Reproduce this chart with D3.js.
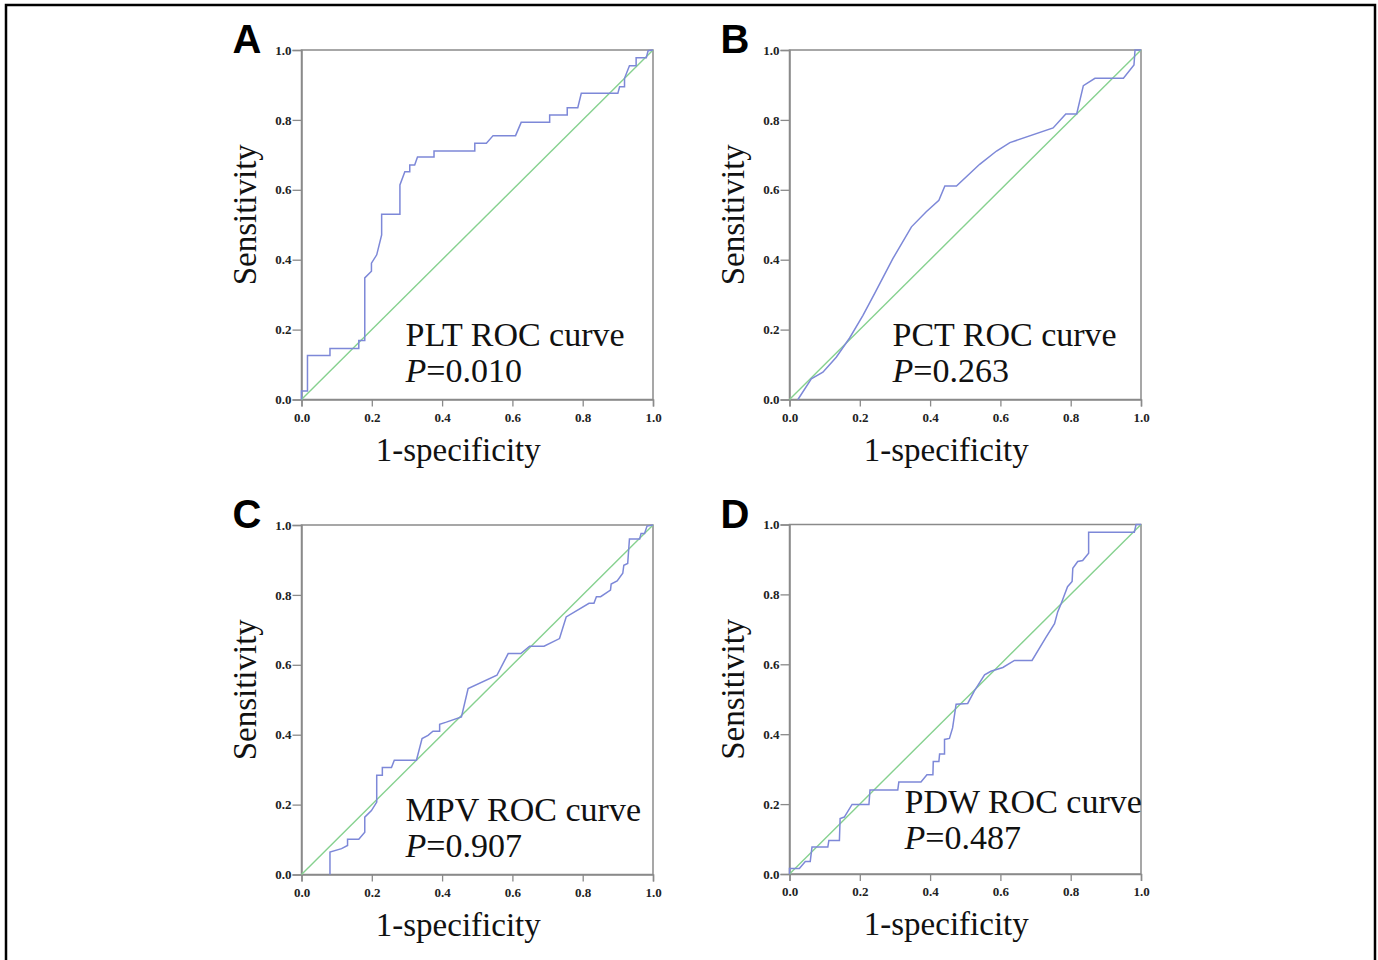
<!DOCTYPE html>
<html>
<head>
<meta charset="utf-8">
<script src="https://cdn.jsdelivr.net/npm/d3@7"></script>
<style>
  body { margin: 0; background: #fff; }
  svg { display: block; }
</style>
</head>
<body>
<script>
// ROC curves, 4 panels
var pltFpr = [0, 0, 0.017, 0.017, 0.081, 0.081, 0.163, 0.163, 0.180, 0.180, 0.199, 0.199, 0.214, 0.228, 0.228, 0.280, 0.280, 0.294, 0.308, 0.308, 0.322, 0.330, 0.377, 0.377, 0.493, 0.493, 0.526, 0.545, 0.609, 0.625, 0.706, 0.706, 0.756, 0.756, 0.786, 0.796, 0.900, 0.905, 0.919, 0.919, 0.933, 0.952, 0.952, 0.981, 0.986, 1];
var pltTpr = [0, 0.024, 0.024, 0.126, 0.126, 0.146, 0.146, 0.169, 0.169, 0.348, 0.367, 0.390, 0.414, 0.471, 0.530, 0.530, 0.614, 0.652, 0.652, 0.671, 0.671, 0.694, 0.694, 0.711, 0.711, 0.733, 0.733, 0.755, 0.755, 0.793, 0.793, 0.814, 0.814, 0.835, 0.835, 0.876, 0.876, 0.895, 0.895, 0.919, 0.955, 0.955, 0.978, 0.978, 0.998, 1];

var pctFpr = [0.024, 0.062, 0.095, 0.133, 0.171, 0.209, 0.242, 0.294, 0.347, 0.389, 0.425, 0.442, 0.475, 0.541, 0.589, 0.627, 0.750, 0.786, 0.817, 0.836, 0.869, 0.950, 0.980, 0.983, 1];
var pctTpr = [0, 0.059, 0.078, 0.121, 0.176, 0.241, 0.303, 0.403, 0.494, 0.537, 0.570, 0.611, 0.611, 0.673, 0.711, 0.735, 0.777, 0.817, 0.817, 0.898, 0.919, 0.919, 0.957, 1, 1];

var mpvFpr = [0.081, 0.081, 0.114, 0.131, 0.131, 0.163, 0.180, 0.180, 0.199, 0.214, 0.214, 0.230, 0.230, 0.256, 0.264, 0.327, 0.343, 0.360, 0.374, 0.393, 0.393, 0.412, 0.455, 0.474, 0.556, 0.588, 0.624, 0.649, 0.690, 0.734, 0.753, 0.818, 0.832, 0.839, 0.851, 0.879, 0.881, 0.898, 0.914, 0.917, 0.928, 0.933, 0.962, 0.966, 0.976, 0.983, 1];
var mpvTpr = [0, 0.064, 0.074, 0.083, 0.101, 0.101, 0.121, 0.164, 0.183, 0.207, 0.284, 0.284, 0.306, 0.306, 0.327, 0.327, 0.389, 0.398, 0.410, 0.410, 0.430, 0.436, 0.451, 0.532, 0.570, 0.632, 0.632, 0.653, 0.653, 0.675, 0.737, 0.776, 0.776, 0.795, 0.795, 0.814, 0.831, 0.840, 0.862, 0.885, 0.890, 0.960, 0.960, 0.976, 0.976, 0.997, 1];

var pdwFpr = [0, 0, 0.028, 0.045, 0.059, 0.064, 0.109, 0.112, 0.142, 0.144, 0.156, 0.178, 0.226, 0.229, 0.308, 0.311, 0.374, 0.391, 0.408, 0.409, 0.425, 0.427, 0.441, 0.441, 0.455, 0.464, 0.474, 0.507, 0.526, 0.555, 0.573, 0.607, 0.640, 0.690, 0.730, 0.754, 0.763, 0.773, 0.791, 0.804, 0.806, 0.820, 0.834, 0.851, 0.851, 0.981, 0.986, 1];
var pdwTpr = [0, 0.016, 0.016, 0.036, 0.036, 0.077, 0.077, 0.096, 0.096, 0.159, 0.163, 0.199, 0.199, 0.240, 0.240, 0.263, 0.263, 0.284, 0.284, 0.322, 0.322, 0.343, 0.343, 0.385, 0.388, 0.418, 0.486, 0.488, 0.524, 0.570, 0.580, 0.591, 0.611, 0.611, 0.678, 0.716, 0.750, 0.774, 0.822, 0.837, 0.875, 0.894, 0.897, 0.918, 0.978, 0.978, 1, 1];

var panelLetters = ['A', 'B', 'C', 'D'];
var curveNames = ['PLT ROC curve', 'PCT ROC curve', 'MPV ROC curve', 'PDW ROC curve'];
var pValues = ['0.010', '0.263', '0.907', '0.487'];
var tickValues = [0, 0.2, 0.4, 0.6, 0.8, 1.0];

var panels = [
  { fpr: pltFpr, tpr: pltTpr, x: 301.5, y: 50, lx: 104, ly: 296 },
  { fpr: pctFpr, tpr: pctTpr, x: 789.5, y: 50, lx: 103, ly: 296 },
  { fpr: mpvFpr, tpr: mpvTpr, x: 301.5, y: 525, lx: 104, ly: 296 },
  { fpr: pdwFpr, tpr: pdwTpr, x: 789.5, y: 524.5, lx: 115, ly: 288 }
];

var width = 1378, height = 960,
    pw = 351.5, ph = 349.5;

var svg = d3.select('body').append('svg')
  .attr('width', width)
  .attr('height', height);

// outer frame
svg.append('rect')
  .attr('x', 6).attr('y', 5)
  .attr('width', 1369).attr('height', 980)
  .attr('fill', 'none').attr('stroke', '#000').attr('stroke-width', 2.5);

var x = d3.scaleLinear().domain([0, 1]).range([0, pw]);
var y = d3.scaleLinear().domain([0, 1]).range([ph, 0]);

var line = d3.line()
  .x(function(d) { return x(d[0]); })
  .y(function(d) { return y(d[1]); });

panels.forEach(function(p, i) {
  var g = svg.append('g').attr('transform', 'translate(' + p.x + ',' + p.y + ')');

  // box
  g.append('rect')
    .attr('width', pw).attr('height', ph)
    .attr('fill', 'none').attr('stroke', '#8a8a8a').attr('stroke-width', 1.5);

  var xAxis = g.append('g')
    .attr('transform', 'translate(0,' + ph + ')')
    .call(d3.axisBottom(x).tickValues(tickValues).tickFormat(d3.format('.1f')).tickSize(7).tickPadding(6));
  var yAxis = g.append('g')
    .call(d3.axisLeft(y).tickValues(tickValues).tickFormat(d3.format('.1f')).tickSize(9).tickPadding(1));

  [xAxis, yAxis].forEach(function(a) {
    a.select('.domain').attr('stroke', '#8a8a8a').attr('stroke-width', 1.5);
    a.selectAll('.tick line').attr('stroke', '#8a8a8a').attr('stroke-width', 1.3);
    a.selectAll('.tick text')
      .attr('fill', '#222')
      .attr('font-family', '"Liberation Serif", serif')
      .attr('font-weight', 'bold')
      .attr('font-size', '13px');
  });

  // reference diagonal
  g.append('path')
    .datum([[0, 0], [1, 1]])
    .attr('d', line)
    .attr('fill', 'none')
    .attr('stroke', '#86d18f')
    .attr('stroke-width', 1.4);

  // roc curve
  var pts = p.fpr.map(function(f, j) { return [f, p.tpr[j]]; });
  g.append('path')
    .datum(pts)
    .attr('d', line)
    .attr('fill', 'none')
    .attr('stroke', '#7d88d8')
    .attr('stroke-width', 1.5);

  // annotation
  g.append('text')
    .attr('x', p.lx).attr('y', p.ly)
    .attr('font-family', '"Liberation Serif", serif')
    .attr('font-size', '34px')
    .attr('fill', '#111')
    .text(curveNames[i]);
  var pt = g.append('text')
    .attr('x', p.lx).attr('y', p.ly + 36)
    .attr('font-family', '"Liberation Serif", serif')
    .attr('font-size', '34px')
    .attr('fill', '#111');
  pt.append('tspan').attr('font-style', 'italic').text('P');
  pt.append('tspan').text('=' + pValues[i]);

  // axis titles
  g.append('text')
    .attr('transform', 'translate(-46,' + (ph / 2 - 10) + ') rotate(-90)')
    .attr('text-anchor', 'middle')
    .attr('font-family', '"Liberation Serif", serif')
    .attr('font-size', '33px')
    .attr('fill', '#111')
    .text('Sensitivity');
  g.append('text')
    .attr('x', pw / 2 - 19).attr('y', ph + 61)
    .attr('text-anchor', 'middle')
    .attr('font-family', '"Liberation Serif", serif')
    .attr('font-size', '33px')
    .attr('fill', '#111')
    .text('1-specificity');

  // panel letter
  g.append('text')
    .attr('x', -69).attr('y', 3)
    .attr('font-family', '"Liberation Sans", Arial, sans-serif')
    .attr('font-weight', 'bold')
    .attr('font-size', '40px')
    .attr('fill', '#000')
    .text(panelLetters[i]);
});
</script>
</body>
</html>
